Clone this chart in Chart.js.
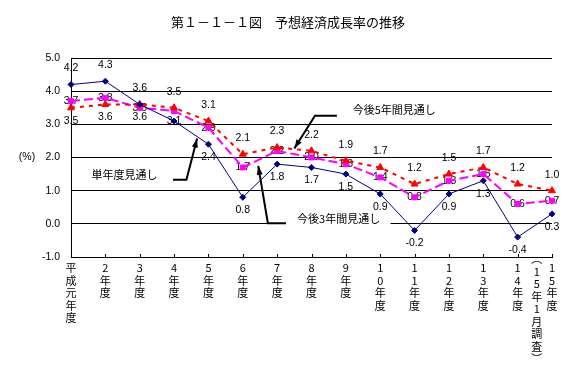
<!DOCTYPE html>
<html>
<head>
<meta charset="utf-8">
<script src="https://cdn.jsdelivr.net/npm/chart.js@4/dist/chart.umd.min.js"></script>
<style>
  html, body { margin: 0; padding: 0; background: #fff; }
  #wrap { width: 576px; height: 390px; }
</style>
</head>
<body>
<div id="wrap"><canvas id="chart"></canvas></div>
<script>
"use strict";

// ── Data ───────────────────────────────────────────────────
const years = [
    "平成元年度", "2年度", "3年度", "4年度", "5年度", "6年度", "7年度", "8年度",
    "9年度", "10年度", "11年度", "12年度", "13年度", "14年度", "15年度",
];
const singleYear = [4.2, 4.3, 3.6, 3.1, 2.4, 0.8, 1.8, 1.7, 1.5, 0.9, -0.2, 0.9, 1.3, -0.4, 0.3];
const fiveYear = [3.5, 3.6, 3.6, 3.5, 3.1, 2.1, 2.3, 2.2, 1.9, 1.7, 1.2, 1.5, 1.7, 1.2, 1.0];
const threeYear = [3.7, 3.8, 3.5, 3.4, 2.9, 1.7, 2.2, 2.0, 1.8, 1.4, 0.8, 1.3, 1.5, 0.6, 0.7];
const yTicks = [-1, 0, 1, 2, 3, 4, 5];

// where each value label sits relative to its point
const singleYearPos = ["above", "above", "below", "center", "below", "below", "below", "below",
    "below", "below", "below", "below", "below", "below", "below"];
const fiveYearPos = ["below", "below", "above", "above", "above", "above", "above", "above",
    "above", "above", "above", "above", "above", "above", "above"];
const threeYearPos = ["center", "center", "center", "none", "center", "center", "center", "center",
    "center", "center", "center", "center", "center", "center", "center"];

const TITLE = "第１－１－１図　予想経済成長率の推移";
const UNIT = "(%)";
const SURVEY_NOTE = ["︵", "1", "5", "年", "1", "月", "調", "査", "︶"];

// annotations in data units: [category index, value]
const notes = [
    { text: "単年度見通し", at: [0.6, 1.48], arrow: [[2.97, 1.33], [3.36, 1.33], [3.67, 2.57]] },
    { text: "今後3年間見通し", at: [6.58, 0.15], arrow: [[6.26, 0.02], [5.73, 0.02], [5.45, 1.75]], mask: [6.26, 9.3] },
    { text: "今後5年間見通し", at: [8.2, 3.44], arrow: [[7.74, 3.26], [7.10, 3.26], [6.50, 2.27]] },
];

const JP = '"Noto Sans CJK JP", sans-serif';
const NUM = '"Liberation Sans", "Noto Sans CJK JP", sans-serif';

// ── Plugin: labels, annotations, title ─────────────────────
const decor = {
    id: "decor",
    beforeDatasetsDraw(chart) {
        const { ctx, scales: { x, y } } = chart;
        ctx.save();
        // white boxes behind annotation text
        notes.forEach((n) => {
            if (!n.mask) return;
            const yc = y.getPixelForValue(n.at[1]);
            ctx.fillStyle = "#fff";
            ctx.fillRect(x.getPixelForValue(n.mask[0]), yc - 9, x.getPixelForValue(n.mask[1]) - x.getPixelForValue(n.mask[0]), 18);
        });
        // value labels
        ctx.font = "10.5px " + NUM;
        ctx.fillStyle = "#000";
        ctx.textAlign = "center";
        ctx.textBaseline = "middle";
        const shift = { above: -16, below: 13, center: 0 };
        chart.data.datasets.forEach((ds, i) => {
            const meta = chart.getDatasetMeta(i);
            meta.data.forEach((pt, j) => {
                const pos = ds.labelPos[j];
                if (pos === "none") return;
                ctx.fillText(ds.data[j].toFixed(1), pt.x, pt.y + shift[pos]);
            });
        });
        ctx.restore();
    },
    afterDraw(chart) {
        const { ctx, chartArea, scales: { x, y } } = chart;
        ctx.save();
        ctx.fillStyle = "#000";
        ctx.strokeStyle = "#000";

        // title
        ctx.font = "13px " + JP;
        ctx.textAlign = "center";
        ctx.textBaseline = "middle";
        ctx.fillText(TITLE, chart.width / 2, 22);

        // unit
        ctx.font = "10.5px " + NUM;
        ctx.fillText(UNIT, 27, y.getPixelForValue(2));

        // small upward ticks on the x axis
        ctx.lineWidth = 1;
        years.forEach((_, i) => {
            const px = Math.round(x.getPixelForValue(i)) + 0.5;
            ctx.beginPath();
            ctx.moveTo(px, chartArea.bottom);
            ctx.lineTo(px, chartArea.bottom - 3);
            ctx.stroke();
        });

        // survey note under the last category
        ctx.font = "11px " + JP;
        const nx = (x.getPixelForValue(years.length - 2) + x.getPixelForValue(years.length - 1)) / 2 + 2;
        SURVEY_NOTE.forEach((ch, k) => {
            ctx.fillText(ch, nx, chartArea.bottom + 2 + k * 12.5);
        });

        // annotations with arrows
        notes.forEach((n) => {
            ctx.textAlign = "left";
            ctx.fillText(n.text, x.getPixelForValue(n.at[0]), y.getPixelForValue(n.at[1]));
            const pts = n.arrow.map(([a, b]) => [x.getPixelForValue(a), y.getPixelForValue(b)]);
            ctx.lineWidth = 2;
            ctx.beginPath();
            ctx.moveTo(pts[0][0], pts[0][1]);
            for (let k = 1; k < pts.length; k++) ctx.lineTo(pts[k][0], pts[k][1]);
            ctx.stroke();
            const [tx, ty] = pts[pts.length - 1];
            const [sx, sy] = pts[pts.length - 2];
            const ang = Math.atan2(ty - sy, tx - sx);
            const len = 9, half = 3;
            ctx.beginPath();
            ctx.moveTo(tx, ty);
            ctx.lineTo(tx - len * Math.cos(ang) + half * Math.sin(ang), ty - len * Math.sin(ang) - half * Math.cos(ang));
            ctx.lineTo(tx - len * Math.cos(ang) - half * Math.sin(ang), ty - len * Math.sin(ang) + half * Math.cos(ang));
            ctx.closePath();
            ctx.fill();
        });
        ctx.restore();
    },
};

// ── Chart ──────────────────────────────────────────────────
new Chart(document.getElementById("chart"), {
    type: "line",
    data: {
        labels: years,
        datasets: [
            {
                label: "単年度見通し",
                data: singleYear,
                labelPos: singleYearPos,
                borderColor: "#000080",
                backgroundColor: "#000080",
                borderWidth: 1,
                pointStyle: "rectRot",
                pointRadius: 3,
                pointBorderWidth: 1,
                clip: false,
            },
            {
                label: "今後5年間見通し",
                data: fiveYear,
                labelPos: fiveYearPos,
                borderColor: "#ff0000",
                backgroundColor: "#ff0000",
                borderWidth: 2,
                borderDash: [4, 5],
                pointStyle: "triangle",
                pointRadius: 4,
                pointBorderWidth: 1,
                clip: false,
            },
            {
                label: "今後3年間見通し",
                data: threeYear,
                labelPos: threeYearPos,
                borderColor: "#ff00ff",
                backgroundColor: "#ff00ff",
                borderWidth: 2,
                borderDash: [9, 4],
                pointStyle: "rect",
                pointRadius: 3.5,
                pointBorderWidth: 1,
                clip: false,
            },
        ],
    },
    options: {
        responsive: true,
        maintainAspectRatio: false,
        animation: false,
        events: [],
        layout: { padding: { top: 58, right: 24, bottom: 0, left: 0 } },
        plugins: {
            legend: { display: false },
            tooltip: { enabled: false },
            title: { display: false },
        },
        scales: {
            x: {
                type: "category",
                offset: false,
                grid: { display: true, drawOnChartArea: false, drawTicks: false, color: "transparent" },
                border: { display: true, color: "#000", width: 1 },
                ticks: {
                    autoSkip: false,
                    maxRotation: 0,
                    minRotation: 0,
                    padding: 5,
                    color: "#000",
                    font: { family: JP, size: 11, lineHeight: "12.5px" },
                    callback: (v, i) => Array.from(years[i]),
                },
                afterFit: (s) => { s.height = 133; },
            },
            y: {
                min: yTicks[0],
                max: yTicks[yTicks.length - 1],
                afterBuildTicks: (s) => { s.ticks = yTicks.map((v) => ({ value: v })); },
                grid: { color: "#000", lineWidth: 1, drawTicks: false },
                border: { display: true, color: "#000", width: 1 },
                ticks: {
                    padding: 11,
                    color: "#000",
                    font: { family: NUM, size: 10.5 },
                    callback: (v) => v.toFixed(1),
                },
                afterFit: (s) => { s.width = 71; },
            },
        },
    },
    plugins: [decor],
});
</script>
</body>
</html>
